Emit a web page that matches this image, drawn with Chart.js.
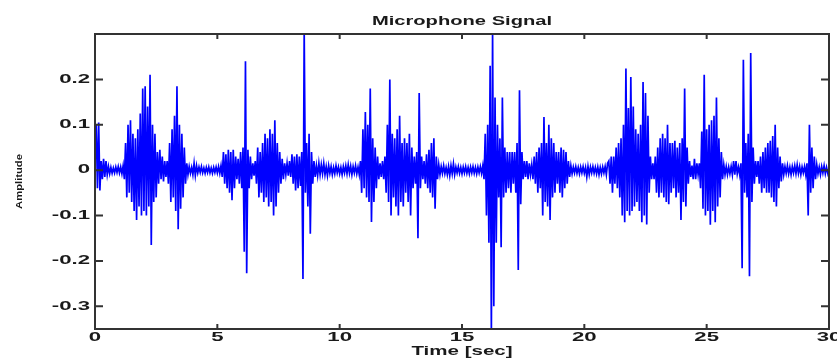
<!DOCTYPE html>
<html>
<head>
<meta charset="utf-8">
<title>Microphone Signal</title>
<script src="https://cdn.jsdelivr.net/npm/chart.js@4.4.1/dist/chart.umd.min.js"></script>
<style>
  html, body { margin: 0; padding: 0; background: #fff; }
  #wrap { width: 837px; height: 358px; }
</style>
</head>
<body>
<div id="wrap"><canvas id="signalChart" width="837" height="358"></canvas></div>
<script>
// amplitude, one value every 0.05 s (one row = one second)
const sampleStep = 0.05;
const signal = [
  0.02, 0.10, -0.04, 0.105, -0.045, 0.02, -0.02, 0.025, -0.015, 0.02, -0.01, 0.008, -0.008, 0.006, -0.007, 0.005, -0.006, 0.007, -0.005, 0.008,
  -0.006, 0.007, -0.008, 0.01, -0.02, 0.06, -0.06, 0.10, -0.05, 0.11, -0.07, 0.08, -0.09, 0.07, -0.11, 0.09, -0.08, 0.125, -0.10, 0.18,
  -0.09, 0.185, -0.10, 0.14, -0.08, 0.21, -0.165, 0.10, -0.07, 0.08, -0.06, 0.04, -0.03, 0.045, -0.02, 0.03, -0.025, 0.02, -0.015, 0.02,
  -0.03, 0.06, -0.07, 0.09, -0.06, 0.12, -0.09, 0.185, -0.13, 0.10, -0.085, 0.08, -0.06, 0.05, -0.03, 0.015, -0.01, 0.008, -0.007, 0.006,
  -0.01, 0.015, -0.012, 0.01, -0.006, 0.007, -0.005, 0.008, -0.006, 0.005, -0.007, 0.006, -0.005, 0.007, -0.006, 0.005, -0.007, 0.006, -0.005, 0.007,
  -0.006, 0.008, -0.007, 0.01, -0.015, 0.04, -0.03, 0.035, -0.04, 0.045, -0.05, 0.04, -0.066, 0.045, -0.04, 0.03, -0.02, 0.025, -0.03, 0.04,
  -0.04, 0.05, -0.18, 0.24, -0.227, 0.045, -0.04, 0.03, -0.02, 0.015, -0.012, 0.02, -0.03, 0.05, -0.06, 0.04, -0.05, 0.06, -0.07, 0.08,
  -0.06, 0.07, -0.08, 0.09, -0.07, 0.08, -0.10, 0.11, -0.08, 0.06, -0.05, 0.04, -0.03, 0.025, -0.02, 0.015, -0.01, 0.015, -0.012, 0.02,
  -0.015, 0.035, -0.03, 0.03, -0.045, 0.035, -0.04, 0.03, -0.035, 0.04, -0.24, 0.31, -0.05, 0.06, -0.08, 0.08, -0.14, 0.04, -0.03, 0.02,
  -0.015, 0.01, -0.012, 0.015, -0.01, 0.012, -0.008, 0.015, -0.01, 0.008, -0.012, 0.01, -0.007, 0.008, -0.01, 0.006, -0.008, 0.01, -0.006, 0.007,
  -0.008, 0.006, -0.01, 0.008, -0.006, 0.01, -0.008, 0.012, -0.007, 0.009, -0.01, 0.008, -0.006, 0.01, -0.008, 0.007, -0.01, 0.02, -0.05, 0.09,
  -0.04, 0.128, -0.06, 0.10, -0.07, 0.18, -0.114, 0.07, -0.07, 0.05, -0.04, 0.03, -0.02, 0.015, -0.015, 0.02, -0.02, 0.03, -0.05, 0.10,
  -0.07, 0.20, -0.10, 0.08, -0.06, 0.07, -0.08, 0.09, -0.10, 0.12, -0.07, 0.06, -0.08, 0.07, -0.05, 0.06, -0.07, 0.08, -0.10, 0.05,
  -0.04, 0.03, -0.03, 0.04, -0.15, 0.17, -0.04, 0.03, -0.02, 0.02, -0.03, 0.035, -0.04, 0.045, -0.05, 0.06, -0.06, 0.07, -0.085, 0.03,
  -0.02, 0.012, -0.01, 0.008, -0.007, 0.01, -0.008, 0.006, -0.01, 0.008, -0.012, 0.01, -0.008, 0.014, -0.01, 0.007, -0.006, 0.008, -0.007, 0.006,
  -0.008, 0.007, -0.006, 0.008, -0.007, 0.006, -0.008, 0.007, -0.006, 0.008, -0.007, 0.006, -0.008, 0.007, -0.006, 0.008, -0.007, 0.01, -0.02, 0.08,
  -0.10, 0.10, -0.16, 0.23, -0.36, 0.31, -0.30, 0.16, -0.16, 0.10, -0.06, 0.07, -0.17, 0.16, -0.06, 0.05, -0.05, 0.04, -0.04, 0.04,
  -0.05, 0.04, -0.03, 0.04, -0.05, 0.06, -0.22, 0.176, -0.075, 0.04, -0.02, 0.02, -0.015, 0.02, -0.02, 0.015, -0.01, 0.012, -0.02, 0.03,
  -0.03, 0.04, -0.05, 0.05, -0.04, 0.06, -0.10, 0.117, -0.07, 0.06, -0.08, 0.10, -0.11, 0.07, -0.06, 0.06, -0.05, 0.04, -0.03, 0.04,
  -0.05, 0.05, -0.06, 0.045, -0.04, 0.04, -0.03, 0.02, -0.015, 0.01, -0.008, 0.007, -0.006, 0.008, -0.007, 0.006, -0.008, 0.007, -0.006, 0.008,
  -0.007, 0.006, -0.015, 0.008, -0.01, 0.007, -0.006, 0.008, -0.007, 0.006, -0.008, 0.007, -0.01, 0.006, -0.008, 0.007, -0.006, 0.008, -0.01, 0.015,
  0.02, -0.03, 0.03, -0.05, 0.03, -0.03, 0.05, -0.04, 0.06, -0.06, 0.07, -0.10, 0.10, -0.115, 0.224, -0.09, 0.137, -0.10, 0.205, -0.09,
  0.14, -0.08, 0.09, -0.07, 0.08, -0.09, 0.10, -0.115, 0.194, -0.10, 0.17, -0.12, 0.12, -0.05, 0.03, -0.02, 0.015, -0.02, 0.03, -0.05,
  0.05, -0.06, 0.07, -0.05, 0.08, -0.06, 0.07, -0.07, 0.10, -0.075, 0.06, -0.05, 0.06, -0.04, 0.065, -0.06, 0.05, -0.05, 0.06, -0.11,
  0.07, -0.07, 0.18, -0.08, 0.05, -0.03, 0.02, -0.015, 0.01, -0.02, 0.025, -0.02, 0.015, -0.01, 0.015, -0.04, 0.085, -0.085, 0.21, -0.10,
  0.09, -0.09, 0.10, -0.12, 0.11, -0.09, 0.12, -0.115, 0.16, -0.08, 0.07, -0.06, 0.04, -0.02, 0.012, -0.01, 0.008, -0.01, 0.007, -0.008,
  0.008, -0.01, 0.02, -0.01, 0.02, -0.008, 0.007, -0.01, 0.015, -0.216, 0.243, -0.05, 0.06, -0.06, 0.08, -0.234, 0.258, -0.07, 0.05, -0.03,
  0.02, -0.015, 0.02, -0.03, 0.03, -0.05, 0.04, -0.04, 0.05, -0.05, 0.06, -0.05, 0.065, -0.06, 0.075, -0.07, 0.10, -0.08, 0.05, -0.04,
  0.03, -0.025, 0.015, -0.01, 0.008, -0.007, 0.01, -0.008, 0.007, -0.01, 0.008, -0.006, 0.01, -0.008, 0.012, -0.007, 0.008, -0.01, 0.007, -0.006,
  0.008, -0.01, 0.015, -0.1, 0.10, -0.05, 0.05, -0.04, 0.03, -0.02, 0.012, -0.008, 0.007, -0.01, 0.008, -0.006, 0.01, -0.008, 0.006, -0.007,
  0.005
];

const xTicks = [0, 5, 10, 15, 20, 25, 30];
const yTicks = [-0.3, -0.2, -0.1, 0, 0.1, 0.2];
const yTickLabels = ['-0.3', '-0.2', '-0.1', '0', '0.1', '0.2'];

const titleText = 'Microphone Signal';
const xTitle = 'Time [sec]';
const yTitle = 'Amplitude';

// the reference text is squashed wide, so draw it scaled horizontally
function wideText(ctx, text, x, y, sx, align) {
    ctx.save();
    ctx.translate(x, y);
    ctx.scale(sx, 1);
    ctx.textAlign = align;
    ctx.fillText(text, 0, 0);
    ctx.restore();
}

const matlabAxes = {
    id: 'matlabAxes',
    afterDatasetsDraw(chart) {
        const { ctx, chartArea: a, scales } = chart;
        ctx.save();
        ctx.strokeStyle = '#333';
        ctx.lineWidth = 2;
        ctx.strokeRect(a.left, a.top, a.right - a.left, a.bottom - a.top);

        // inward tick marks on all four sides
        ctx.beginPath();
        scales.x.ticks.forEach(t => {
            const px = scales.x.getPixelForValue(t.value);
            ctx.moveTo(px, a.bottom); ctx.lineTo(px, a.bottom - 5);
            ctx.moveTo(px, a.top); ctx.lineTo(px, a.top + 5);
        });
        scales.y.ticks.forEach(t => {
            const py = scales.y.getPixelForValue(t.value);
            ctx.moveTo(a.left, py); ctx.lineTo(a.left + 8, py);
            ctx.moveTo(a.right, py); ctx.lineTo(a.right - 8, py);
        });
        ctx.stroke();

        ctx.fillStyle = '#1a1a1a';
        ctx.textBaseline = 'middle';
        ctx.font = 'bold 12px "Liberation Sans", Arial, sans-serif';
        scales.y.ticks.forEach((t, i) => {
            wideText(ctx, yTickLabels[i], a.left - 5, scales.y.getPixelForValue(t.value), 1.85, 'right');
        });
        scales.x.ticks.forEach(t => {
            wideText(ctx, String(t.value), scales.x.getPixelForValue(t.value), a.bottom + 9, 1.85, 'center');
        });

        const cx = (a.left + a.right) / 2;
        ctx.font = 'bold 13px "Liberation Sans", Arial, sans-serif';
        wideText(ctx, titleText, cx, 21, 1.55, 'center');
        wideText(ctx, xTitle, cx, a.bottom + 22, 1.58, 'center');

        ctx.save();
        ctx.translate(20, (a.top + a.bottom) / 2);
        ctx.rotate(-Math.PI / 2);
        ctx.scale(1.25, 1);
        ctx.font = 'bold 9px "Liberation Sans", Arial, sans-serif';
        ctx.textAlign = 'center';
        ctx.fillText(yTitle, 0, 0);
        ctx.restore();

        ctx.restore();
    }
};

const points = signal.map((v, i) => ({ x: i * sampleStep, y: v }));

new Chart(document.getElementById('signalChart'), {
    type: 'line',
    data: {
        datasets: [{
            data: points,
            borderColor: '#0000ff',
            borderWidth: 1.7,
            pointRadius: 0,
            tension: 0,
            fill: false
        }]
    },
    options: {
        responsive: false,
        animation: false,
        parsing: false,
        normalized: true,
        layout: { padding: { top: 34, right: 8, left: 0, bottom: 0 } },
        plugins: {
            legend: { display: false },
            tooltip: { enabled: false },
            title: { display: false }
        },
        scales: {
            x: {
                type: 'linear',
                min: 0,
                max: 30,
                grid: { display: false },
                border: { display: false },
                ticks: { display: false },
                afterBuildTicks: s => { s.ticks = xTicks.map(v => ({ value: v })); },
                afterFit: s => { s.height = 29; }
            },
            y: {
                type: 'linear',
                min: -0.35,
                max: 0.3,
                grid: { display: false },
                border: { display: false },
                ticks: { display: false },
                afterBuildTicks: s => { s.ticks = yTicks.map(v => ({ value: v })); },
                afterFit: s => { s.width = 95; }
            }
        }
    },
    plugins: [matlabAxes]
});
</script>
</body>
</html>
